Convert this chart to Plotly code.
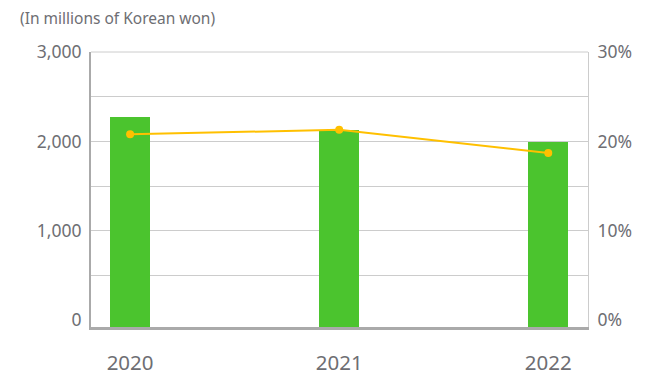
import plotly.graph_objects as go

years = ["2020", "2021", "2022"]
amounts = [2270, 2127, 1990]          # millions of Korean won
ratios = [20.8, 21.3, 18.7]           # percent
y_ticks = [0, 1000, 2000, 3000]
y_grid = [500, 1000, 1500, 2000, 2500, 3000]
y2_ticks = [0, 10, 20, 30]
y2_labels = ["0%", "10%", "20%", "30%"]

xpos = list(range(len(years)))
FONT = "Noto Sans"
TXT = "#6e6e73"

fig = go.Figure()
fig.add_trace(go.Bar(
    x=xpos, y=[a + 75 for a in amounts], base=-75, width=0.19,
    marker=dict(color="#4bc42e", line=dict(width=0)),
    hoverinfo="skip", showlegend=False,
))
fig.add_trace(go.Scatter(
    x=xpos, y=ratios, yaxis="y2", mode="lines+markers",
    line=dict(color="#ffc000", width=2),
    marker=dict(color="#ffc000", size=8),
    showlegend=False,
))

fig.update_layout(
    width=642, height=367,
    margin=dict(l=83, r=62, t=44, b=48, autoexpand=False),
    paper_bgcolor="white", plot_bgcolor="white",
    font=dict(family=FONT, color=TXT),
    bargap=0,
    xaxis=dict(
        range=[-0.187, 2.19], tickvals=xpos, ticktext=years, automargin=False,
        tickfont=dict(size=20.5, color=TXT), showgrid=False, zeroline=False,
        showline=True, linecolor="#aaaaaa", linewidth=3,
        ticks="", ticklabelstandoff=15,
    ),
    yaxis=dict(
        range=[-75, 3000], tickvals=y_ticks, tickformat=",", automargin=False,
        tickfont=dict(size=17.5, color=TXT), showgrid=False,
        zeroline=False, showline=True, linecolor="#aaaaaa",
        linewidth=2, ticks="", ticklabelstandoff=4,
        minor=dict(tickvals=y_grid, showgrid=True, gridcolor="#cccccc", gridwidth=1, ticks=""),
    ),
    yaxis2=dict(
        range=[-0.75, 30], overlaying="y", side="right", tickvals=y2_ticks,
        ticktext=y2_labels, automargin=False,
        tickfont=dict(size=17.5, color=TXT), showgrid=False,
        zeroline=False, showline=True, linecolor="#cccccc", linewidth=1,
        ticks="", ticklabelstandoff=5,
    ),
    shapes=[dict(type="line", xref="paper", yref="paper", x0=0, x1=1, y0=1, y1=1,
                 line=dict(color="#cccccc", width=1))],
    annotations=[dict(text="(In millions of Korean won)", xref="paper", yref="paper",
                      x=-0.147, y=1.0, xanchor="left", yanchor="bottom", yshift=21,
                      showarrow=False, font=dict(size=15.5, color=TXT, family=FONT))],
)

fig.write_html("out.html")
